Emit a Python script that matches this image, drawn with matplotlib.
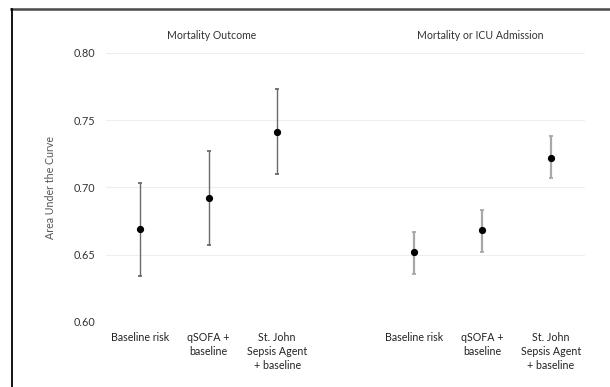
import matplotlib.pyplot as plt
from matplotlib.lines import Line2D

plt.rcParams['font.family'] = ['Lato', 'DejaVu Sans']

# AUC estimates with 95% CI, two outcomes, three models each
models = ['Baseline risk', 'qSOFA +\nbaseline', 'St. John\nSepsis Agent\n+ baseline']
outcomes = ['Mortality Outcome', 'Mortality or ICU Admission']

auc_mort = [0.669, 0.692, 0.741]
lo_mort = [0.634, 0.657, 0.710]
hi_mort = [0.703, 0.727, 0.773]

auc_icu = [0.652, 0.668, 0.722]
lo_icu = [0.636, 0.652, 0.707]
hi_icu = [0.667, 0.683, 0.738]

fig = plt.figure(figsize=(6.10, 3.87), dpi=100)
ax = fig.add_axes([0.1738, 0.168, 0.7852, 0.6958])

groups = [(auc_mort, lo_mort, hi_mort), (auc_icu, lo_icu, hi_icu)]
bar_style = [dict(ecolor='#6a6a6a', elinewidth=1.0),
             dict(ecolor='#a8a8a8', elinewidth=1.6)]
title_shift = [0.045, -0.035]
ticks, labels = [], []
for g, (auc, lo, hi) in enumerate(groups):
    xs = [i + 4 * g for i in range(len(auc))]
    yerr = [[a - l for a, l in zip(auc, lo)], [h - a for a, h in zip(auc, hi)]]
    ax.errorbar(xs, auc, yerr=yerr, fmt='o', color='black', ms=4.2,
                capsize=1.4, capthick=1.3, zorder=3, **bar_style[g])
    ticks += xs
    labels += models
    ax.text(sum(xs) / len(xs) + title_shift[g], 0.8126, outcomes[g],
            ha='center', va='center', fontsize=7.6, color='#333333')

ax.set_xlim(-0.5, 6.5)
ax.set_ylim(0.60, 0.80)
ax.set_yticks([0.60, 0.65, 0.70, 0.75, 0.80])
ax.set_yticklabels(['0.60', '0.65', '0.70', '0.75', '0.80'])
ax.set_xticks(ticks)
ax.set_xticklabels(labels, fontsize=7.7, color='#222222', linespacing=1.35)
ax.tick_params(axis='y', labelsize=7.8, labelcolor='#333333', length=0, pad=8)
ax.tick_params(axis='x', length=0, pad=7)
ax.grid(axis='y', color='#eeeeee', lw=0.8)
ax.set_axisbelow(True)
for s in ax.spines.values():
    s.set_visible(False)
ax.set_ylabel('Area Under the Curve', fontsize=7.7, color='#555555', labelpad=12)

# frame around the figure: top and left edges only
fig.add_artist(Line2D([11 / 610, 1], [1 - 9 / 387, 1 - 9 / 387],
                      transform=fig.transFigure, color='#4a4a4a', lw=1.8))
fig.add_artist(Line2D([11.5 / 610, 11.5 / 610], [0, 1 - 9 / 387],
                      transform=fig.transFigure, color='black', lw=1.3))

fig.savefig('out.png', dpi=100, facecolor='white')
